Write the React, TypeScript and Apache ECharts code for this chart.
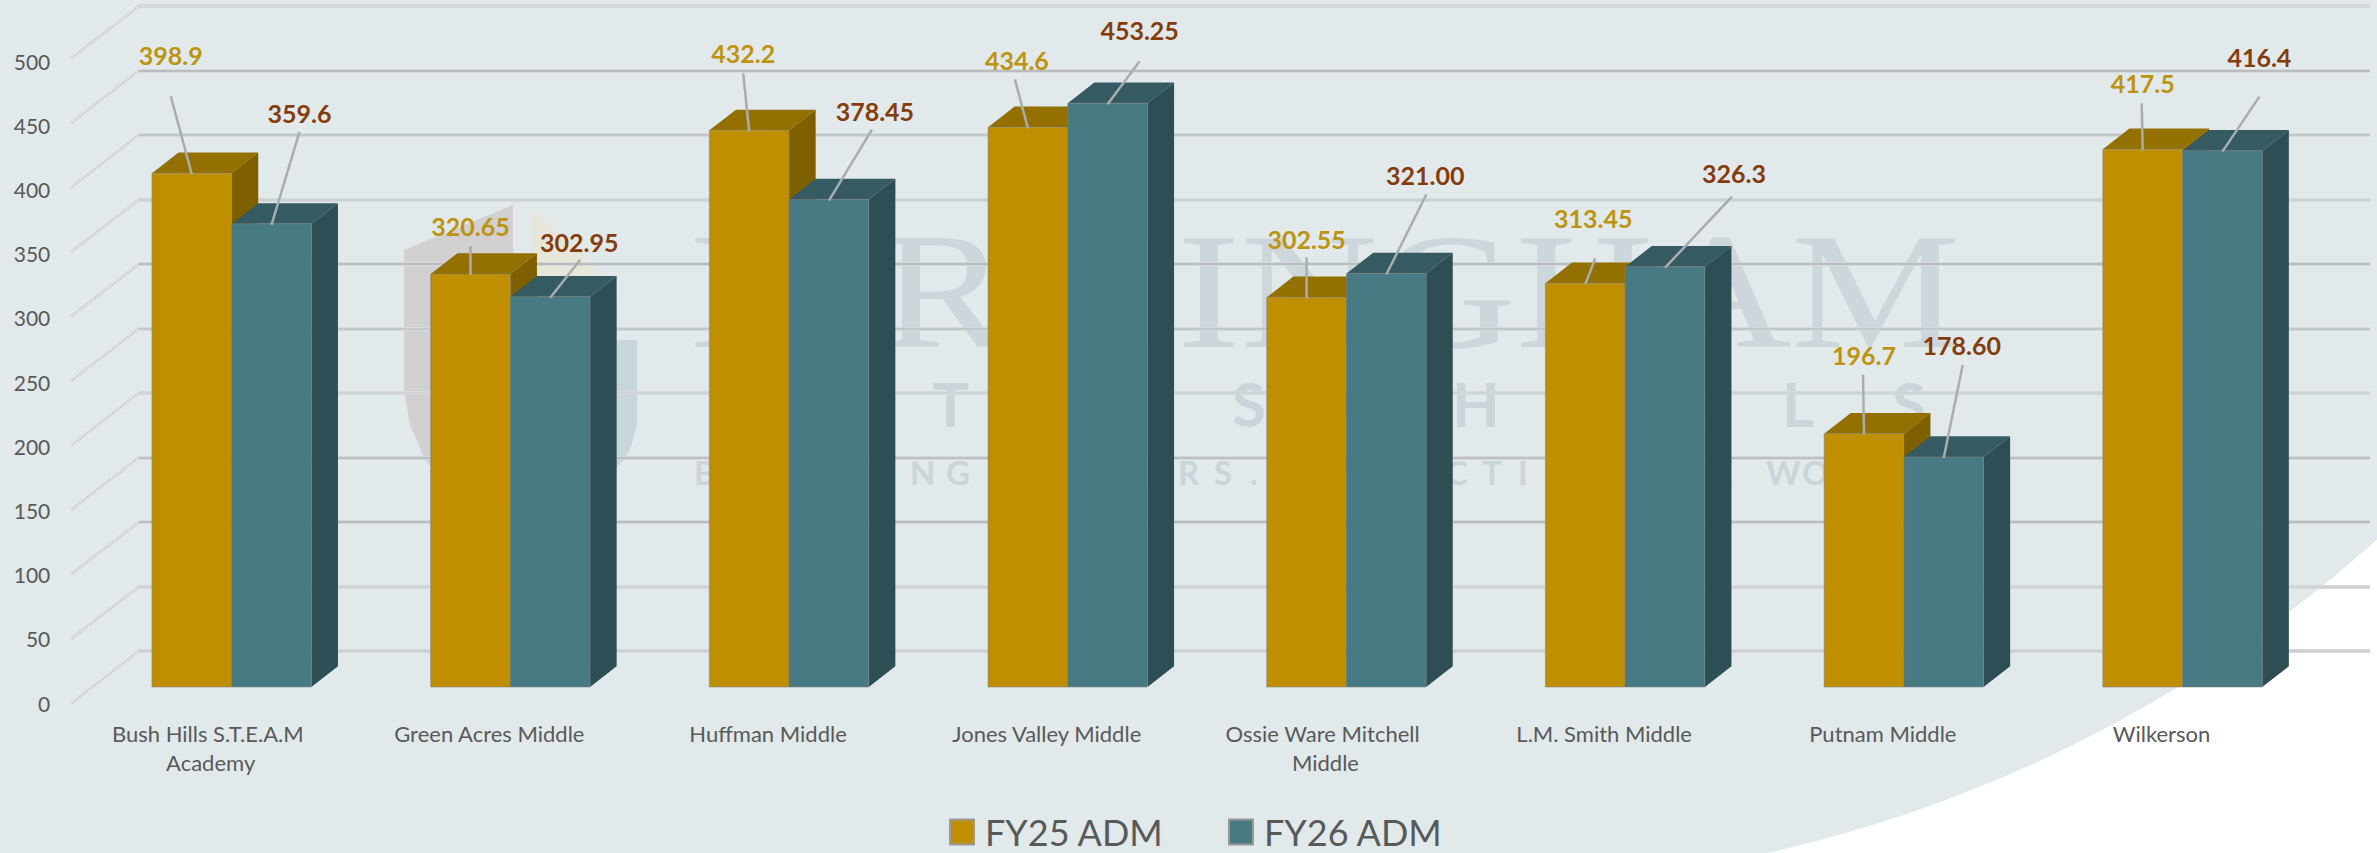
import React, { useEffect, useRef } from "react";
import * as echarts from "echarts";

const categories = [
  "Bush Hills S.T.E.A.M Academy",
  "Green Acres Middle",
  "Huffman Middle",
  "Jones Valley Middle",
  "Ossie Ware Mitchell Middle",
  "L.M. Smith Middle",
  "Putnam Middle",
  "Wilkerson",
];
const fy25Values = [398.9, 320.65, 432.2, 434.6, 302.55, 313.45, 196.7, 417.5];
const fy26Values = [359.6, 302.95, 378.45, 453.25, 321.0, 326.3, 178.6, 416.4];
const fy25Labels = ["398.9", "320.65", "432.2", "434.6", "302.55", "313.45", "196.7", "417.5"];
const fy26Labels = ["359.6", "302.95", "378.45", "453.25", "321.00", "326.3", "178.60", "416.4"];
const axisTicks = [0, 50, 100, 150, 200, 250, 300, 350, 400, 450, 500];
const gridTones = ["#c9ccce", "#cfd2d4", "#b0b2b4", "#b4b6b8", "#cfd2d4", "#bfc2c4", "#b0b2b4", "#c9ccce", "#bfc2c4", "#b0b2b4", "#d4d7d9"];

// label placement relative to the top centre of each bar: [label dx, label dy, leader dx, leader dy]
const fy25LabelLayout = [
  [-21, -118, -21, -77], [0, -48, 0, -28], [-6, -77, -6, -57], [-11, -67, -13, -48],
  [0, -58, 0, -40], [8, -65, 10, -25], [0, -79, -1, -59], [0, -66, -1, -46],
];
const fy26LabelLayout = [
  [28, -111, 28, -92], [29, -55, 30, -37], [46, -89, 43, -70], [32, -73, 32, -42],
  [39, -99, 40, -79], [69, -94, 67, -70], [18, -112, 19, -92], [37, -94, 37, -54],
];

const FONT = "Lato, Carlito, sans-serif";
const BAR_WIDTH = 79.7;
const DEPTH_X = 26.6;
const DEPTH_Y = 20.7;

function barRenderer(
  seriesIndex: number,
  colors: { front: string; top: string; side: string; label: string },
  labels: string[],
  layout: number[][],
) {
  return (params: any, api: any) => {
    const i = params.dataIndex;
    const [cx0, yTop] = api.coord([api.value(0), api.value(1)]);
    const [, yBase] = api.coord([api.value(0), 0]);
    const left = seriesIndex === 0 ? cx0 - BAR_WIDTH : cx0;
    const right = left + BAR_WIDTH;
    const cx = left + BAR_WIDTH / 2;
    const [ldx, ldy, edx, edy] = layout[i];
    return {
      type: "group",
      children: [
        {
          type: "polygon",
          shape: { points: [[left, yTop], [left + DEPTH_X, yTop - DEPTH_Y], [right + DEPTH_X, yTop - DEPTH_Y], [right, yTop]] },
          style: { fill: colors.top },
        },
        {
          type: "polygon",
          shape: { points: [[right, yTop], [right + DEPTH_X, yTop - DEPTH_Y], [right + DEPTH_X, yBase - DEPTH_Y], [right, yBase]] },
          style: { fill: colors.side },
        },
        {
          type: "rect",
          shape: { x: left, y: yTop, width: BAR_WIDTH, height: yBase - yTop },
          style: { fill: colors.front, stroke: "rgba(125,130,130,0.55)", lineWidth: 1 },
        },
        {
          type: "line",
          shape: { x1: cx, y1: yTop + 1, x2: cx + edx, y2: yTop + edy },
          style: { stroke: "#a9adaf", lineWidth: 2.5 },
        },
        {
          type: "text",
          x: cx + ldx,
          y: yTop + ldy,
          style: {
            text: labels[i],
            fill: colors.label,
            font: `bold 25px ${FONT}`,
            align: "center",
            verticalAlign: "middle",
          },
        },
      ],
    };
  };
}

function diagonalRenderer(_params: any, api: any) {
  const [x, y] = api.coord([0, api.value(0)]);
  return {
    type: "group",
    children: [
      {
        type: "line",
        shape: { x1: x, y1: y, x2: x - 68.6, y2: y + 53 },
        style: { stroke: "#cdd1d3", lineWidth: 3, lineDash: [2, 1.2] },
      },
    ],
  };
}

function spacedLetters(text: string, x0: number, advance: number, spaceAdvance: number, y: number, font: string) {
  const out: any[] = [];
  let x = x0;
  for (const ch of text) {
    if (ch === " ") {
      x += spaceAdvance;
      continue;
    }
    out.push({
      type: "text",
      x,
      y,
      z: -90,
      style: { text: ch, font, fill: "#cbd4d8", align: "left", verticalAlign: "middle" },
    });
    x += advance;
  }
  return out;
}

function watermark() {
  return [
    { type: "rect", z: -100, shape: { x: 0, y: 0, width: 2377, height: 853 }, style: { fill: "#ffffff" } },
    { type: "rect", z: -99, shape: { x: 0, y: 0, width: 1471, height: 853 }, style: { fill: "#e1e9eb" } },
    { type: "circle", z: -99, shape: { cx: 1470, cy: -475, r: 1361 }, style: { fill: "#e1e9eb" } },
    {
      type: "polygon",
      z: -95,
      shape: { points: [[404, 250], [513, 205], [513, 500], [445, 480], [425, 460], [410, 425], [404, 390]] },
      style: { fill: "#d2d0d0" },
    },
    {
      type: "polygon",
      z: -95,
      shape: { points: [[590, 340], [637, 340], [637, 425], [630, 450], [612, 475], [590, 490]] },
      style: { fill: "#c8d5db" },
    },
    {
      type: "polygon",
      z: -95,
      shape: { points: [[531, 208], [580, 250], [600, 280], [531, 290]] },
      style: { fill: "#e7e6da" },
    },
    {
      type: "text",
      x: 690,
      y: 291,
      z: -90,
      scaleX: 1.155,
      style: { text: "BIRMINGHAM", font: "165px 'Liberation Serif', serif", fill: "#cdd6da", align: "left", verticalAlign: "middle" },
    },
    ...spacedLetters("CITY SCHOOLS", 712, 110, 80, 403, `bold 62px ${FONT}`),
    ...spacedLetters("BUILDING LEADERS. IMPACTING THE WORLD", 694, 36, 16, 472, `bold 33px ${FONT}`),
  ];
}

export default function App() {
  const ref = useRef<HTMLDivElement>(null);
  useEffect(() => {
    document.body.style.margin = "0";
    document.body.style.overflow = "hidden";
    const chart = echarts.init(ref.current!, undefined, { renderer: "svg" });
    const gold = { front: "#bf8f00", top: "#937000", side: "#7f6000", label: "#bd9410" };
    const teal = { front: "#477a82", top: "#365a62", side: "#2c4e54", label: "#843c0c" };
    const hiddenValue = { min: 0, max: 500, interval: 50, type: "value" as const };
    chart.setOption({
      animation: false,
      backgroundColor: "transparent",
      graphic: { elements: watermark() },
      grid: [
        { left: 92.3, top: 43, width: 2229.6, height: 644 },
        { left: 139, top: 6, width: 2231, height: 645 },
        { left: 71.3, top: 61, width: 2229.6, height: 642 },
      ],
      xAxis: [
        { gridIndex: 0, type: "category", data: categories, show: false },
        { gridIndex: 1, type: "value", min: 0, max: 1, show: false },
        {
          gridIndex: 2,
          type: "category",
          data: categories,
          axisLine: { show: false },
          axisTick: { show: false },
          axisLabel: {
            interval: 0,
            margin: 16,
            width: 215,
            overflow: "break",
            lineHeight: 29,
            fontFamily: FONT,
            fontSize: 22,
            color: "#595959",
          },
        },
      ],
      yAxis: [
        { ...hiddenValue, gridIndex: 0, show: false },
        {
          ...hiddenValue,
          gridIndex: 1,
          axisLine: { show: false },
          axisTick: { show: false },
          axisLabel: { show: false },
          splitLine: { show: true, lineStyle: { color: "#d6d9db", width: 4 } },
        },
        {
          ...hiddenValue,
          gridIndex: 1,
          position: "right",
          axisLine: { show: false },
          axisTick: { show: false },
          axisLabel: { show: false },
          splitLine: { show: true, lineStyle: { color: gridTones, width: 1.5 } },
        },
        {
          ...hiddenValue,
          gridIndex: 2,
          axisLine: { show: false },
          axisTick: { show: false },
          splitLine: { show: false },
          axisLabel: { margin: 21, fontFamily: FONT, fontSize: 21, color: "#595959" },
        },
      ],
      legend: {
        left: 949,
        top: 814,
        padding: 0,
        itemWidth: 24,
        itemHeight: 25,
        itemGap: 64,
        icon: "rect",
        selectedMode: false,
        data: ["FY25 ADM", "FY26 ADM"],
        textStyle: { fontFamily: FONT, fontSize: 36, lineHeight: 30, height: 30, color: "#595959", padding: [0, 0, 0, 6] },
      },
      series: [
        {
          name: "wall",
          type: "custom",
          xAxisIndex: 1,
          yAxisIndex: 1,
          z: 1,
          data: axisTicks.map((t) => [t]),
          encode: { y: 0 },
          renderItem: diagonalRenderer,
          silent: true,
        },
        {
          name: "FY25 ADM",
          type: "custom",
          xAxisIndex: 0,
          yAxisIndex: 0,
          z: 3,
          itemStyle: { color: gold.front, borderColor: "#9a9a9a", borderWidth: 1 },
          encode: { x: 0, y: 1 },
          data: fy25Values.map((v, i) => [i, v]),
          renderItem: barRenderer(0, gold, fy25Labels, fy25LabelLayout),
        },
        {
          name: "FY26 ADM",
          type: "custom",
          xAxisIndex: 0,
          yAxisIndex: 0,
          z: 4,
          itemStyle: { color: teal.front, borderColor: "#9a9a9a", borderWidth: 1 },
          encode: { x: 0, y: 1 },
          data: fy26Values.map((v, i) => [i, v]),
          renderItem: barRenderer(1, teal, fy26Labels, fy26LabelLayout),
        },
      ],
    });
    return () => chart.dispose();
  }, []);
  return <div ref={ref} style={{ width: 2377, height: 853 }} />;
}
